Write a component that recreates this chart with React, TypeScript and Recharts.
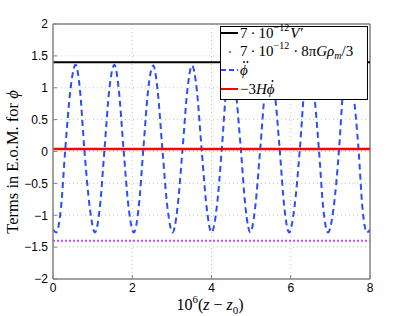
import React from 'react';
import { LineChart, Line, XAxis, YAxis, CartesianGrid, ReferenceLine } from 'recharts';

const xTicks = [0, 2, 4, 6, 8];
const yTicks = [-2, -1.5, -1, -0.5, 0, 0.5, 1, 1.5, 2];

// phi double-dot: troughs, flanks, crossings and peaks
const ddotZ = [
  0, 0.08, 0.2, 0.31, 0.44, 0.57, 0.68, 0.79, 0.93,
  1.06, 1.18, 1.3, 1.42, 1.55, 1.66, 1.78, 1.91,
  2.04, 2.16, 2.28, 2.4, 2.53, 2.64, 2.76, 2.89,
  3.02, 3.14, 3.27, 3.39, 3.51, 3.63, 3.75, 3.88,
  4.0, 4.13, 4.26, 4.37, 4.49, 4.61, 4.74, 4.86,
  4.98, 5.1, 5.23, 5.35, 5.47, 5.59, 5.72, 5.84,
  5.96, 6.09, 6.23, 6.34, 6.45, 6.58, 6.71, 6.82,
  6.94, 7.08, 7.22, 7.32, 7.43, 7.57, 7.71, 7.81,
  7.92, 8.0,
];
const ddotVal = [
  -1.22, -1.27, -0.89, 0.04, 0.97, 1.36, 0.97, 0.04, -0.89,
  -1.27, -0.89, 0.04, 0.97, 1.36, 0.97, 0.04, -0.89,
  -1.27, -0.89, 0.04, 0.96, 1.35, 0.96, 0.04, -0.89,
  -1.27, -0.89, 0.04, 0.96, 1.35, 0.96, 0.04, -0.89,
  -1.27, -0.89, 0.04, 0.96, 1.35, 0.96, 0.04, -0.89,
  -1.27, -0.89, 0.04, 0.96, 1.35, 0.96, 0.04, -0.89,
  -1.27, -0.89, 0.04, 0.96, 1.35, 0.96, 0.04, -0.89,
  -1.27, -0.89, 0.04, 0.96, 1.35, 0.96, 0.04, -0.89,
  -1.27, -1.23,
];

// flat terms
const lineEnds = [0, 8];
const vPrime = [1.4, 1.4];
const matterTerm = [-1.4, -1.4];
const friction = [0.04, 0.04];

const ddotData = ddotZ.map((z, i) => ({ z, v: ddotVal[i] }));
const vData = lineEnds.map((z, i) => ({ z, v: vPrime[i] }));
const mData = lineEnds.map((z, i) => ({ z, v: matterTerm[i] }));
const fData = lineEnds.map((z, i) => ({ z, v: friction[i] }));

const serif = '"Liberation Serif", "DejaVu Serif", serif';
const sans = '"Liberation Sans", Arial, sans-serif';
const fmt = (v: number) => (v < 0 ? '\u2212' + Math.abs(v) : String(v));

const XLabel = () => (
  <text x={210} y={310} textAnchor="middle" fontFamily={serif} fontSize={16} fill="#000">
    10<tspan fontSize={11} dy={-7}>6</tspan>
    <tspan dy={7}>(</tspan><tspan fontStyle="italic">z</tspan> {'\u2212'} <tspan fontStyle="italic">z</tspan>
    <tspan fontSize={11} dy={4}>0</tspan><tspan dy={-4}>)</tspan>
  </text>
);

const YLabel = () => (
  <text x={18} y={162} transform="rotate(-90 18 162)" textAnchor="middle" fontFamily={serif} fontSize={16.5} fill="#000">
    Terms in E.o.M. for <tspan fontStyle="italic">{'\u03D5'}</tspan>
  </text>
);

const legendItems = [
  { key: 'v', color: '#000000', kind: 'solid' },
  { key: 'm', color: '#c050ff', kind: 'dot' },
  { key: 'dd', color: '#2a4dff', kind: 'dash' },
  { key: 'f', color: '#ff0000', kind: 'solid' },
];

const sup = (s: string) => <span style={{ fontSize: 10, position: 'relative', top: -7, marginRight: 1 }}>{s}</span>;
// phi with dots drawn just above it
const dotted = (n: number) => (
  <span style={{ position: 'relative', fontStyle: 'italic', display: 'inline-block' }}>
    {'\u03D5'}
    <svg width={10} height={4} style={{ position: 'absolute', left: 0, top: -2 }}>
      {n === 2 ? (
        <>
          <circle cx={4} cy={2} r={0.9} fill="#000" />
          <circle cx={7.5} cy={2} r={0.9} fill="#000" />
        </>
      ) : (
        <circle cx={5.5} cy={2} r={0.9} fill="#000" />
      )}
    </svg>
  </span>
);
const sp = <span style={{ margin: '0 3px' }}>·</span>;
const legendText: Record<string, React.ReactNode> = {
  v: <>7{sp}10{sup('\u221212')}<i>V</i><span style={{ marginLeft: 1 }}>′</span></>,
  m: <>7{sp}10{sup('\u221212')}{sp}8π<i>G</i><i>ρ</i><span style={{ fontSize: 10, position: 'relative', top: 3, fontStyle: 'italic' }}>m</span>/3</>,
  dd: dotted(2),
  f: <>{'\u2212'}3<i>H</i>{dotted(1)}</>,
};

const Legend = () => (
  <div style={{ position: 'absolute', left: 220, top: 26, width: 146, height: 72, background: '#fff', border: '1px solid #000', fontFamily: serif, fontSize: 15 }}>
    {legendItems.map((it, i) => (
      <div key={it.key} style={{ position: 'absolute', left: 0, top: -3 + i * 18.7, height: 18, width: 146, display: 'flex', alignItems: 'center' }}>
        <svg width={18} height={18} style={{ flex: 'none' }}>
          {it.kind === 'solid' && <line x1={0} x2={17} y1={9} y2={9} stroke={it.color} strokeWidth={2} />}
          {it.kind === 'dash' && <line x1={0} x2={17} y1={9} y2={9} stroke={it.color} strokeWidth={2} strokeDasharray="5 3" />}
          {it.kind === 'dot' && <rect x={8} y={8} width={2} height={2} fill={it.color} />}
        </svg>
        <span style={{ marginLeft: 1, whiteSpace: 'nowrap' }}>{legendText[it.key]}</span>
      </div>
    ))}
  </div>
);

export default function App() {
  const frame = { stroke: '#858585', strokeWidth: 1.5 };
  return (
    <div style={{ position: 'absolute', left: 0, top: 0, width: 409, height: 316, background: '#fff' }}>
      <LineChart width={409} height={316} margin={{ top: 24, right: 39, left: 0, bottom: 0 }}>
        <CartesianGrid stroke="#c4c4c4" strokeDasharray="1 3" />
        <XAxis dataKey="z" type="number" domain={[0, 8]} ticks={xTicks} interval={0} height={37}
          tickSize={-4} tickMargin={8} axisLine={frame} tickLine={{ stroke: '#858585' }}
          tick={{ fill: '#000', fontSize: 12, fontFamily: sans }} allowDataOverflow />
        <YAxis type="number" domain={[-2, 2]} ticks={yTicks} interval={0} width={53} tickFormatter={fmt}
          tickSize={-4} tickMargin={9} axisLine={frame} tickLine={{ stroke: '#858585' }}
          tick={{ fill: '#000', fontSize: 12, fontFamily: sans }} allowDataOverflow />
        <ReferenceLine x={8} stroke="#858585" strokeWidth={1.5} />
        <ReferenceLine y={2} stroke="#858585" strokeWidth={1.5} />
        <Line data={vData} dataKey="v" stroke="#000" strokeWidth={2} dot={false} isAnimationActive={false} />
        <Line data={mData} dataKey="v" stroke="#c050ff" strokeWidth={2} strokeDasharray="2 2" dot={false} isAnimationActive={false} />
        <Line data={ddotData} dataKey="v" type="monotone" stroke="#2a4dff" strokeWidth={2} strokeDasharray="6 4" dot={false} isAnimationActive={false} />
        <Line data={fData} dataKey="v" stroke="#ff0000" strokeWidth={2.5} dot={false} isAnimationActive={false} />
      </LineChart>
      <svg width={409} height={316} style={{ position: 'absolute', left: 0, top: 0, pointerEvents: 'none' }}>
        <XLabel />
        <YLabel />
      </svg>
      <Legend />
    </div>
  );
}
